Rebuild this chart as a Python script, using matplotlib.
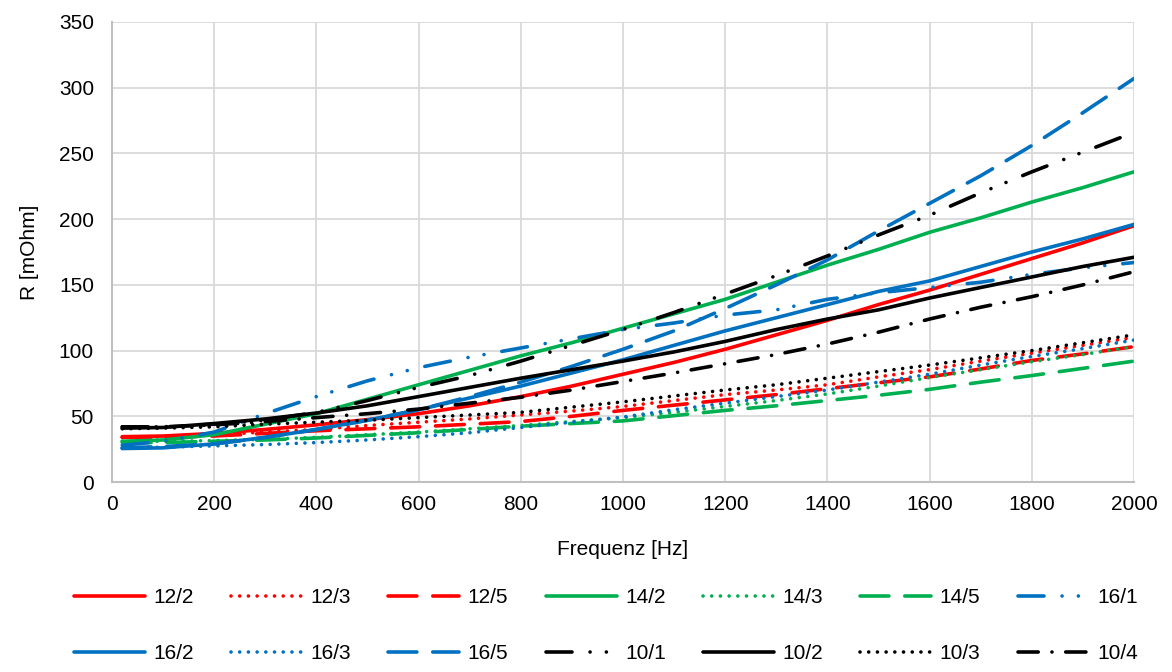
import numpy as np
import matplotlib.pyplot as plt

plt.rcParams['font.family'] = ['Liberation Sans', 'DejaVu Sans']

freq = [20, 100, 200, 300, 400, 500, 600, 700, 800, 900, 1000,
        1100, 1200, 1300, 1400, 1500, 1600, 1700, 1800, 1900, 2000]

r_12_2 = [34.5, 35, 37, 40, 43.5, 47.5, 52, 58, 65, 73, 82, 91, 101, 112, 123, 135, 146, 158, 170, 182, 195]
r_12_3 = [34, 34.5, 36, 38, 40, 43, 45.5, 48, 51, 54, 57.5, 62, 66.5, 70, 74, 80, 85.5, 92, 98, 104, 110]
r_12_5 = [34, 34, 35, 37, 39, 40.5, 42, 44, 46, 50, 54.5, 58.5, 62.5, 66.5, 71, 75.5, 80, 86, 92.5, 97.5, 103]
r_14_2 = [31, 32, 36, 44, 52, 63, 74, 85, 96, 106, 117, 128, 139, 152, 165, 177, 190, 201, 213, 224, 236]
r_14_3 = [31, 31, 31.5, 32.5, 34, 36, 38, 40.5, 43, 46, 49, 53, 57.5, 62, 67, 73, 79.5, 85.5, 91.5, 97, 103]
r_14_5 = [30, 30, 31, 32, 33.5, 35.5, 37.5, 40, 42.5, 44.5, 46.5, 50.5, 54.5, 58, 62, 66, 70.5, 76, 81, 86.5, 92]
r_16_1 = [28, 31, 38, 52, 65, 77, 87, 95, 102, 109, 116, 121, 127, 131, 139, 144, 148, 152, 158, 163, 167]
r_16_2 = [25.5, 26, 29, 34, 40, 47, 55, 64, 73, 83, 93, 104, 115, 125, 135, 145, 153, 164, 175, 185, 196]
r_16_3 = [26, 26.5, 27.5, 28.5, 30, 32, 34.5, 37.5, 41.5, 45.5, 49.5, 55, 60, 65, 70, 76, 82, 89, 95.5, 101.5, 108]
r_16_5 = [26, 27, 29, 34, 40, 47, 55, 65, 76, 88, 101, 115, 132, 150, 169, 191, 212, 233, 256, 281, 307]
r_10_1 = [42, 42, 44, 47, 53, 62, 72, 81, 92, 104, 116, 129, 143, 157, 172, 188, 203, 220, 236, 251, 266]
r_10_2 = [41, 41.5, 44.5, 48, 52.5, 58, 65, 72, 79, 85.5, 92, 99, 107, 116, 124, 131, 140, 148, 156, 164, 171]
r_10_3 = [40.5, 41, 42, 44, 45.5, 47, 49, 51, 53, 57, 61, 65.5, 70, 74, 79, 84, 89, 94.5, 100, 106, 112]
r_10_4 = [42, 42, 43.5, 46, 49, 52, 55.5, 60, 64.5, 70, 76.5, 83, 90, 97, 105, 114, 124, 133, 141, 150, 160]

red = '#FF0000'
green = '#00B050'
blue = '#0070C0'
black = '#000000'

# dash patterns in units of line width (round caps add half a width at each end)
dot = (0.01, 2.4)
longdash = (8.0, 4.4)
dashdot = (5.6, 3.8, 0.01, 3.8)
dashdotdot = (7.2, 5.0, 0.01, 4.5, 0.01, 5.0)

series = [
    ('12/2', r_12_2, red, None),
    ('12/3', r_12_3, red, dot),
    ('12/5', r_12_5, red, longdash),
    ('14/2', r_14_2, green, None),
    ('14/3', r_14_3, green, dot),
    ('14/5', r_14_5, green, longdash),
    ('16/1', r_16_1, blue, dashdotdot),
    ('16/2', r_16_2, blue, None),
    ('16/3', r_16_3, blue, dot),
    ('16/5', r_16_5, blue, longdash),
    ('10/1', r_10_1, black, dashdotdot),
    ('10/2', r_10_2, black, None),
    ('10/3', r_10_3, black, dot),
    ('10/4', r_10_4, black, dashdot),
]

fig = plt.figure(figsize=(11.72, 6.72), dpi=100)
ax = fig.add_axes([0.0956, 0.2827, 0.872, 0.6846])

lines = []
for name, vals, color, dashes in series:
    line, = ax.plot(freq, vals, color=color, lw=2.6, label=name,
                    solid_capstyle='round', dash_capstyle='round')
    if dashes is not None:
        line.set_dashes(dashes)
    lines.append(line)

ax.set_xlim(0, 2000)
ax.set_ylim(0, 350)
ax.set_xticks(np.arange(0, 2001, 200))
ax.set_yticks(np.arange(0, 351, 50))
ax.grid(True, color='#D9D9D9', lw=1.3)
ax.set_axisbelow(True)
for s in ['top', 'right']:
    ax.spines[s].set_visible(False)
for s in ['left', 'bottom']:
    ax.spines[s].set_color('#BFBFBF')
    ax.spines[s].set_linewidth(1.5)
ax.tick_params(length=0, labelsize=15, colors='#000000')
ax.tick_params(axis='y', pad=13)
ax.tick_params(axis='x', pad=9)
ax.set_xlabel('Frequenz [Hz]', fontsize=15, labelpad=19)
ax.set_ylabel('R [mOhm]', fontsize=15, labelpad=14)

# matplotlib fills legend columns first, reorder so it reads row by row
order = []
for i in range(7):
    order += [i, i + 7]
fig.legend([lines[i] for i in order], [series[i][0] for i in order],
           loc='center', bbox_to_anchor=(0.517, 0.069), ncol=7, frameon=False,
           fontsize=15, handlelength=3.4, handletextpad=0.4,
           columnspacing=1.8, labelspacing=1.75)

fig.savefig('out.png', dpi=100)
